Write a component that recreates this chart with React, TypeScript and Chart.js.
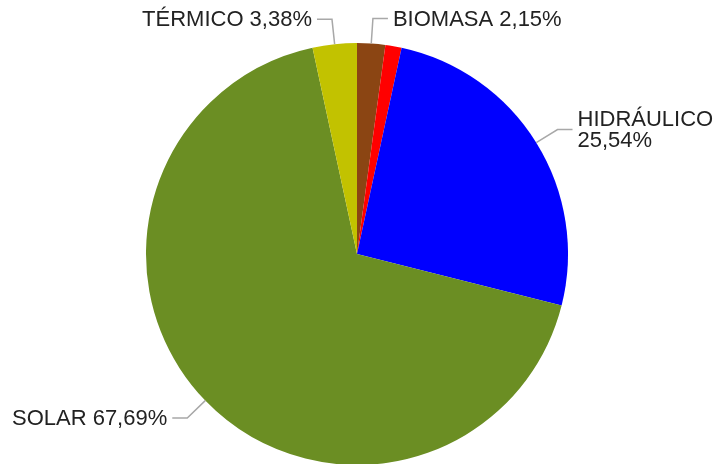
import React, { useEffect, useRef } from "react";
import { Chart, registerables } from "chart.js";

Chart.register(...registerables);

const categories = ["BIOMASA", "OTROS", "HIDRÁULICO", "SOLAR", "TÉRMICO"];
const percentages = [2.15, 1.24, 25.54, 67.69, 3.38];
const sliceColors = ["#8B4513", "#FF0000", "#0000FF", "#6B8E23", "#C2C200"];
const showLabel = [true, false, true, true, true];

const FONT = '22px "Liberation Sans", Arial, sans-serif';

const fmt = (v: number) => v.toFixed(2).replace(".", ",") + "%";

const labelPlugin = {
  id: "pieLabels",
  afterDraw(chart: any) {
    const ctx = chart.ctx as CanvasRenderingContext2D;
    const meta = chart.getDatasetMeta(0);
    const W = chart.width;
    ctx.save();
    ctx.font = FONT;
    meta.data.forEach((arc: any, i: number) => {
      if (!showLabel[i]) return;
      const { x, y, startAngle, endAngle, outerRadius } = arc.getProps(
        ["x", "y", "startAngle", "endAngle", "outerRadius"],
        true
      );
      const mid = (startAngle + endAngle) / 2;
      const c = Math.cos(mid);
      const s = Math.sin(mid);
      const p0x = x + outerRadius * c;
      const p0y = y + outerRadius * s;
      const r1 = outerRadius + 25;
      const p1x = x + r1 * c;
      const p1y = y + r1 * s;
      const dir = c >= 0 ? 1 : -1;
      const p2x = p1x + dir * 15;
      ctx.strokeStyle = "#A8A8A8";
      ctx.lineWidth = 1.5;
      ctx.beginPath();
      ctx.moveTo(p0x, p0y);
      ctx.lineTo(p1x, p1y);
      ctx.lineTo(p2x, p1y);
      ctx.stroke();

      const text = `${categories[i]} ${fmt(percentages[i])}`;
      const tx = p2x + dir * 5;
      const avail = dir > 0 ? W - tx - 2 : tx - 2;
      let lines = [text];
      if (ctx.measureText(text).width > avail) {
        lines = [categories[i], fmt(percentages[i])];
      }
      ctx.fillStyle = "#222222";
      ctx.textAlign = dir > 0 ? "left" : "right";
      ctx.textBaseline = "middle";
      const lh = 21;
      const top = p1y - ((lines.length - 1) * lh) / 2;
      lines.forEach((ln, k) => ctx.fillText(ln, tx, top + k * lh + 1));
    });
    ctx.restore();
  },
};

export default function App() {
  const ref = useRef<HTMLCanvasElement | null>(null);
  useEffect(() => {
    if (!ref.current) return;
    const chart = new Chart(ref.current, {
      type: "pie",
      data: {
        labels: categories,
        datasets: [
          {
            data: percentages,
            backgroundColor: sliceColors,
            borderWidth: 0,
          },
        ],
      },
      options: {
        responsive: false,
        animation: false,
        radius: 211,
        layout: { padding: { left: 0, right: 13, top: 44, bottom: 0 } },
        plugins: {
          legend: { display: false },
          tooltip: { enabled: false },
        },
      } as any,
      plugins: [labelPlugin],
    });
    return () => chart.destroy();
  }, []);
  return (
    <div style={{ position: "fixed", left: 0, top: 0, width: 727, height: 464, background: "#fff" }}>
      <canvas ref={ref} width={727} height={464} />
    </div>
  );
}
